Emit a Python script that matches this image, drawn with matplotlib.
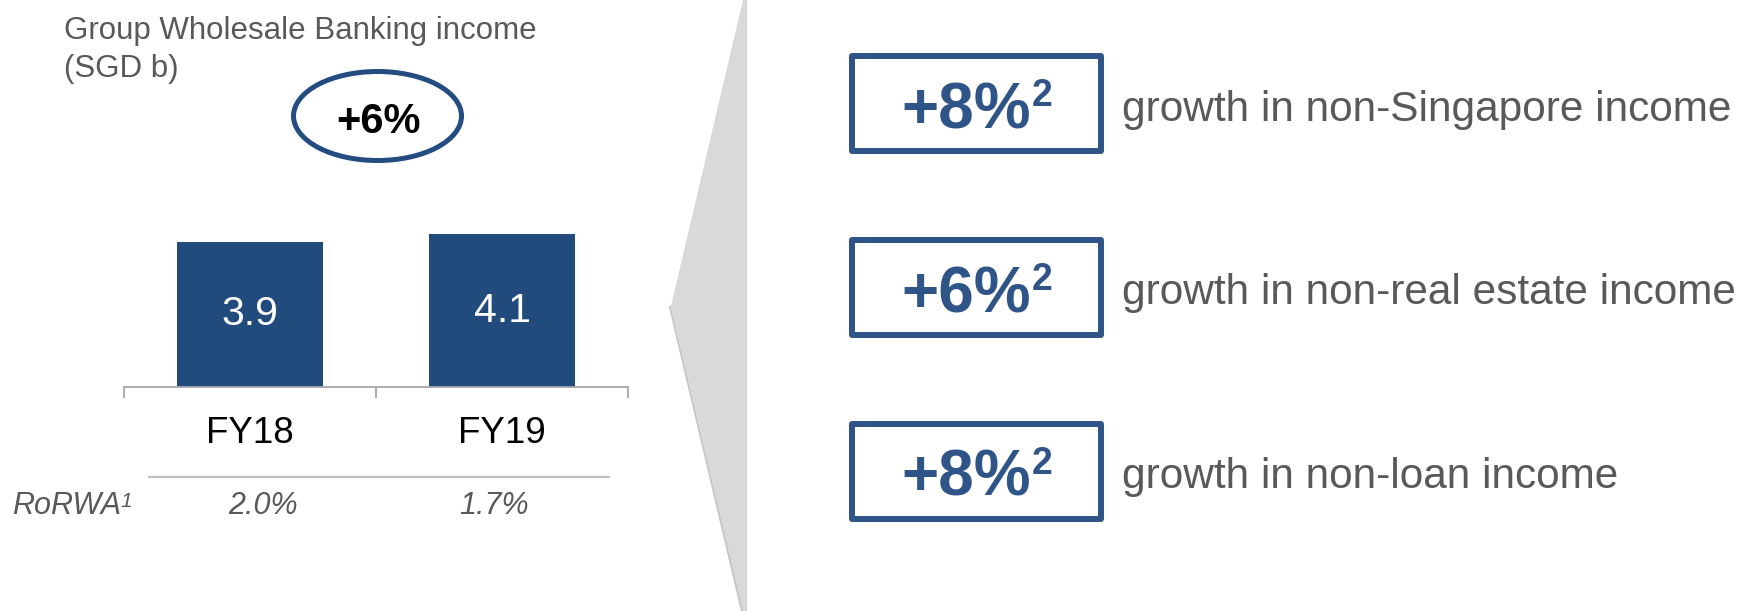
import numpy as np
import matplotlib
matplotlib.use("Agg")
import matplotlib.pyplot as plt
from matplotlib.patches import Ellipse, Rectangle, Polygon

plt.rcParams['font.family'] = ['Liberation Sans', 'DejaVu Sans']

# ---------------------------------------------------------------
# data
# ---------------------------------------------------------------
years = ["FY18", "FY19"]
income = [3.9, 4.1]                 # SGD b
rorwa = ["2.0%", "1.7%"]
income_growth = "+6%"
growth_values = ["+8%", "+6%", "+8%"]
growth_note = "2"
growth_labels = ["growth in non-Singapore income",
                 "growth in non-real estate income",
                 "growth in non-loan income"]

# ---------------------------------------------------------------
# style
# ---------------------------------------------------------------
W, H = 1754, 611
NAVY = "#214a7d"
OVAL = "#234c80"
BOX_BLUE = "#2f5487"
GREY_TXT = "#595959"
AXIS_GREY = "#a6a6a6"

fig = plt.figure(figsize=(W / 100, H / 100), dpi=100)

# overlay in pixel coords for the decorations
ov = fig.add_axes([0, 0, 1, 1])
ov.set_xlim(0, W)
ov.set_ylim(H, 0)
ov.axis("off")

# ---------------------------------------------------------------
# left: bar chart
# ---------------------------------------------------------------
ax = fig.add_axes([124 / W, (H - 387) / H, 504 / W, 186 / H])
ax.patch.set_alpha(0)
x = np.arange(len(years))
bars = ax.bar(x, income, width=0.583, color=NAVY, zorder=2)
ax.bar_label(bars, labels=[f"{v:.1f}" for v in income], label_type="center",
             color="white", fontsize=29.5)
ax.set_xlim(-0.5, len(years) - 0.5)
ax.set_ylim(0, 5.0)
for s in ["top", "right", "left"]:
    ax.spines[s].set_visible(False)
ax.spines["bottom"].set_color(AXIS_GREY)
ax.spines["bottom"].set_linewidth(1.3)
ax.set_yticks([])
ax.set_xticks(np.arange(len(years) + 1) - 0.5)
ax.set_xticklabels([])
ax.tick_params(axis="x", which="major", length=8, width=1.3, color=AXIS_GREY, direction="out")
ax.set_xticks(x, minor=True)
ax.set_xticklabels(years, minor=True)
ax.tick_params(axis="x", which="minor", length=0, pad=21, labelsize=26.5, labelcolor="black")

# title
ov.text(64, 39, "Group Wholesale Banking income", fontsize=22.5, color=GREY_TXT, va="baseline")
ov.text(64, 77, "(SGD b)", fontsize=22.5, color=GREY_TXT, va="baseline")

# growth oval
ov.add_patch(Ellipse((377.5, 116), 168, 89, fill=False, ec=OVAL, lw=3.6))
ov.text(378, 133, income_growth, ha="center", va="baseline", fontsize=30, weight="bold", color="black")

# RoRWA row (two equal table columns under the separator)
row_x0, row_x1 = 148, 610
ov.plot([row_x0, row_x1], [477, 477], color="#bfbfbf", lw=1.6, solid_capstyle="butt")
ov.text(12, 514, "RoRWA", fontsize=22, style="italic", color=GREY_TXT, va="baseline")
ov.text(120, 507, "1", fontsize=15, style="italic", color=GREY_TXT, va="baseline")
col_w = (row_x1 - row_x0) / len(rorwa)
for i, r in enumerate(rorwa):
    ov.text(row_x0 + (i + 0.5) * col_w, 514, r, ha="center", va="baseline",
            fontsize=22, style="italic", color=GREY_TXT)

# ---------------------------------------------------------------
# middle: grey wedge
# ---------------------------------------------------------------
ov.plot([670, 742], [307, 611], color="#c6c6c6", lw=1.5)
ov.plot([745.5, 745.5], [0, 611], color="#cdcdcd", lw=1.2)
ov.add_patch(Polygon([(743, 0), (671, 306), (743, 611), (745, 611), (745, 0)],
                     closed=True, fc="#d9d9d9", ec="none"))

# ---------------------------------------------------------------
# right: growth boxes
# ---------------------------------------------------------------
box_x, box_w, box_h = 852, 249, 95
for i, (val, lab) in enumerate(zip(growth_values, growth_labels)):
    cy = 103.5 + i * 183.75
    ov.add_patch(Rectangle((box_x, cy - box_h / 2), box_w, box_h, fill=False,
                           ec=BOX_BLUE, lw=4.3, joinstyle="round"))
    ov.text(1031, cy + 25, val, ha="right", va="baseline",
            fontsize=46, weight="bold", color=BOX_BLUE)
    ov.text(1032, cy + 3, growth_note, ha="left", va="baseline",
            fontsize=27, weight="bold", color=BOX_BLUE)
    ov.text(1122, cy + 17, lab, ha="left", va="baseline", fontsize=30.5, color=GREY_TXT)

fig.savefig("out.png", dpi=100)
